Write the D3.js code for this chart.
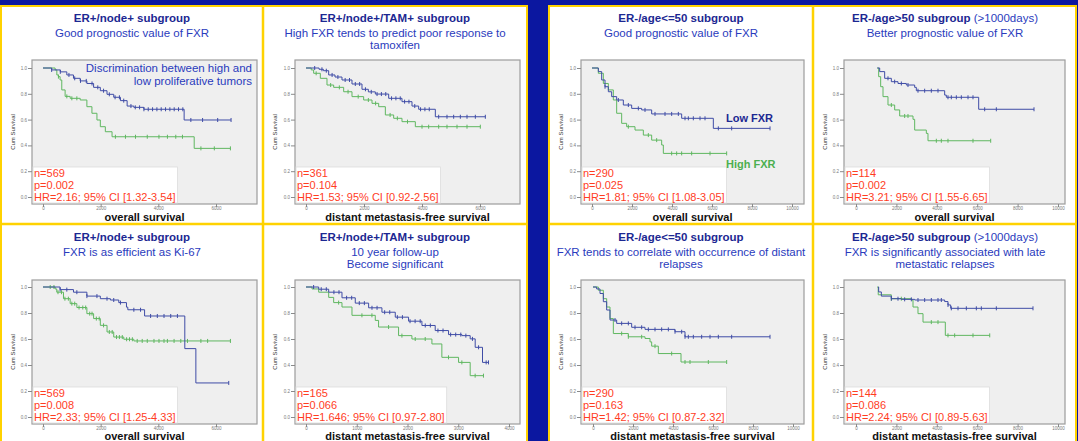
<!DOCTYPE html>
<html>
<head>
<meta charset="utf-8">
<script src="https://cdn.jsdelivr.net/npm/d3@7"></script>
<style>
  html, body { margin: 0; padding: 0; background: #0b17a0; }
  svg { display: block; font-family: "Liberation Sans", Arial, sans-serif; }
</style>
</head>
<body>
<svg id="chart"></svg>
<script>
// ---- text of the eight panels ----
let titles = ['ER+/node+ subgroup', 'ER+/node+/TAM+ subgroup', 'ER-/age<=50 subgroup', 'ER-/age>50 subgroup',
              'ER+/node+ subgroup', 'ER+/node+/TAM+ subgroup', 'ER-/age<=50 subgroup', 'ER-/age>50 subgroup'];
let titleNotes = ['', '', '', ' (>1000days)', '', '', '', ' (>1000days)'];
let subtitles = [
    ['Good prognostic value of FXR'],
    ['High FXR tends to predict poor response to', 'tamoxifen'],
    ['Good prognostic value of FXR'],
    ['Better prognostic value of FXR'],
    ['FXR is as efficient as Ki-67'],
    ['10 year follow-up', 'Become significant'],
    ['FXR tends to correlate with occurrence of distant', 'relapses'],
    ['FXR is significantly associated with late', 'metastatic relapses']
];
let statN = ['569', '361', '290', '114', '569', '165', '290', '144'];
let statP = ['0.002', '0.104', '0.025', '0.002', '0.008', '0.066', '0.163', '0.086'];
let statHR = ['2.16; 95% CI [1.32-3.54]', '1.53; 95% CI [0.92-2.56]', '1.81; 95% CI [1.08-3.05]', '3.21; 95% CI [1.55-6.65]',
              '2.33; 95% CI [1.25-4.33]', '1.646; 95% CI [0.97-2.80]', '1.42; 95% CI [0.87-2.32]', '2.24; 95% CI [0.89-5.63]'];
let xLabels = ['overall survival', 'distant metastasis-free survival', 'overall survival', 'overall survival',
               'overall survival', 'distant metastasis-free survival', 'distant metastasis-free survival', 'distant metastasis-free survival'];

// ---- tick values ----
let ticks6000 = [0, 2000, 4000, 6000];
let ticks4000 = [0, 1000, 2000, 3000, 4000];
let ticks10000 = [0, 2000, 4000, 6000, 8000, 10000];
let yTicks = [0, 0.2, 0.4, 0.6, 0.8, 1.0];

// ---- Kaplan-Meier steps [days, cum survival], low FXR (blue) and high FXR (green) ----
let p1Low = [[0,1],[300,0.985],[600,0.97],[826,0.946],[1057,0.92],[1290,0.9],[1522,0.88],[1755,0.85],[1988,0.824],[2220,0.796],[2453,0.773],[2686,0.747],[2918,0.705],[3150,0.695],[3500,0.68],[4895,0.597],[6522,0.597]];
let p1High = [[0,1],[420,0.985],[480,0.946],[535,0.933],[593,0.907],[651,0.83],[767,0.78],[942,0.765],[1290,0.752],[1522,0.7],[1697,0.649],[1871,0.597],[1988,0.545],[2162,0.506],[2395,0.467],[5244,0.377],[6500,0.377]];
let p1LowCens = [300,600,900,1100,1300,1500,1700,1900,2100,2300,2500,2650,2800,3050,3200,3350,3500,3650,3800,3950,4100,4250,4400,4550,4700,4850,5128,5535,6058,6522];
let p1HighCens = [535,826,1000,1174,2511,2860,3208,3616,4022,4315,4605,4837,5477,5942,6500];

let p2Low = [[0,1],[450,0.99],[600,0.979],[782,0.946],[1000,0.93],[1241,0.907],[1586,0.876],[1931,0.835],[2150,0.815],[2391,0.798],[2851,0.765],[3310,0.739],[3655,0.705],[3885,0.68],[4460,0.622],[6184,0.622]];
let p2High = [[0,1],[180,0.985],[264,0.959],[494,0.92],[724,0.868],[954,0.85],[1299,0.816],[1586,0.778],[1988,0.752],[2276,0.726],[2506,0.7],[2736,0.636],[3023,0.61],[3310,0.584],[3770,0.545],[6011,0.545]];
let p2LowCens = [300,550,700,900,1100,1350,1500,1700,1850,2050,2250,2450,2600,2750,2950,3100,3250,3400,3550,3750,3950,4100,4250,4575,4862,5092,5322,5552,5839,6184];
let p2HighCens = [350,850,1150,1450,1800,2150,2400,2900,3150,3500,4000,4230,4575,4862,5207,5552,6011];

let p3Low = [[0,1],[317,0.972],[483,0.907],[650,0.855],[817,0.816],[983,0.778],[1233,0.752],[1567,0.713],[1983,0.687],[2483,0.675],[2983,0.644],[4483,0.61],[6067,0.532],[8900,0.532]];
let p3High = [[0,1],[317,0.959],[567,0.88],[817,0.83],[1067,0.752],[1233,0.649],[1483,0.571],[1733,0.545],[2150,0.519],[2567,0.48],[2983,0.441],[3483,0.403],[3567,0.338],[6733,0.338]];
let p3LowCens = [650,1317,1817,2317,2650,3150,3650,3983,4317,4650,4817,5067,5400,5650,6317,6983,8900];
let p3HighCens = [1817,2817,3233,3983,4233,4483,4983,5900,6733];

let p4Low = [[1055,1],[1172,0.972],[1419,0.92],[1749,0.894],[2079,0.88],[2492,0.868],[2904,0.85],[2987,0.824],[4389,0.79],[4472,0.773],[6073,0.68],[8812,0.68]];
let p4High = [[1055,1],[1122,0.933],[1221,0.855],[1337,0.778],[1584,0.713],[1914,0.675],[2162,0.628],[2822,0.602],[2904,0.519],[3482,0.493],[3564,0.436],[6668,0.436]];
let p4LowCens = [1584,1914,2244,2574,3069,3399,3729,4059,4554,4719,4967,5214,5545,5792,6370,6947,8812];
let p4HighCens = [1749,2409,2574,3977,4224,4554,5792,6668];

let p5Low = [[0,1],[593,0.98],[1057,0.96],[1522,0.93],[1988,0.91],[2337,0.9],[2628,0.88],[2895,0.845],[2941,0.825],[3523,0.777],[4918,0.526],[5302,0.262],[6442,0.262]];
let p5High = [[0,1],[420,0.985],[477,0.96],[710,0.91],[942,0.872],[1174,0.842],[1522,0.795],[1755,0.757],[1988,0.705],[2221,0.654],[2453,0.615],[2802,0.598],[3151,0.585],[6500,0.585]];
let p5LowCens = [593,826,1174,1522,1871,2220,2453,2686,3151,3383,3732,3965,4197,4430,4662,6442];
let p5HighCens = [250,380,520,640,760,880,1000,1100,1250,1380,1480,1620,1700,1850,1950,2100,2300,2400,2550,2650,2750,2900,3000,3100,3267,3441,3616,3849,4023,4197,4314,4546,4779,5011,5476,5709,6500];

let p6Low = [[0,1],[250,0.983],[447,0.96],[709,0.917],[971,0.876],[1234,0.84],[1496,0.806],[1759,0.768],[2021,0.737],[2284,0.704],[2546,0.665],[2809,0.634],[3071,0.626],[3235,0.601],[3334,0.536],[3478,0.42],[3596,0.42]];
let p6High = [[0,1],[118,0.985],[250,0.96],[447,0.92],[545,0.88],[709,0.846],[906,0.782],[1365,0.743],[1430,0.692],[1824,0.626],[2087,0.6],[2481,0.562],[2677,0.459],[3006,0.42],[3235,0.318],[3497,0.318]];
let p6LowCens = [150,300,400,550,650,800,900,1050,1150,1300,1400,1550,1650,1800,1900,2050,2150,2250,2350,2450,2600,2700,2850,2950,3050,3150,3280,3400,3550,3596];
let p6HighCens = [643,1102,1299,1627,1890,2152,2349,2808,3071,3333,3497];

let p7Low = [[0,1],[183,0.985],[350,0.95],[517,0.887],[683,0.823],[850,0.746],[1183,0.72],[1933,0.69],[2600,0.674],[4100,0.656],[4600,0.617],[8850,0.617]];
let p7High = [[0,1],[267,0.975],[517,0.91],[683,0.846],[850,0.757],[1017,0.642],[1767,0.617],[2600,0.604],[2850,0.578],[2933,0.545],[3267,0.488],[4400,0.423],[6683,0.423]];
let p7LowCens = [1100,1433,1767,2100,2433,2767,3100,3433,3767,4100,4433,4600,4767,5017,5433,5850,6267,6933,8850];
let p7HighCens = [1433,1767,2433,3100,3933,4600,4850,5767,6683];

let p8Low = [[1089,1],[1122,0.962],[1254,0.93],[1749,0.91],[2244,0.905],[2904,0.9],[4389,0.888],[4554,0.862],[4686,0.836],[8762,0.836]];
let p8High = [[1050,1],[1100,0.94],[1749,0.91],[2739,0.9],[2822,0.846],[3069,0.795],[3317,0.73],[4422,0.628],[6620,0.628]];
let p8LowCens = [1749,2079,2409,2739,3069,3399,3729,4059,4224,4554,4719,5050,5462,5957,6205,6947,8762];
let p8HighCens = [1749,2244,3729,4059,4554,4884,5792,6620];

// ---- page layout ----
let width = 1078;
let height = 441;
let cols = [
    {x0: 1, x1: 263, pl: 32, pr: 257},
    {x0: 263, x1: 527, pl: 295, pr: 520},
    {x0: 549, x1: 813, pl: 581, pr: 804},
    {x0: 813, x1: 1077, pl: 844, pr: 1065}
];
let rows = [
    {y0: 6, y1: 221, pt: 60, pb: 204, s0: 197, s1: 68, lab: 221},
    {y0: 225, y1: 441, pt: 280, pb: 424, s0: 417, s1: 287, lab: 439.5}
];
let lowColor = '#3f4ca6';
let highColor = '#5fb760';

let panels = [
    {low: p1Low, high: p1High, lowCens: p1LowCens, highCens: p1HighCens, ticks: ticks6000, xr: [43, 216]},
    {low: p2Low, high: p2High, lowCens: p2LowCens, highCens: p2HighCens, ticks: ticks6000, xr: [306, 480]},
    {low: p3Low, high: p3High, lowCens: p3LowCens, highCens: p3HighCens, ticks: ticks10000, xr: [592, 792]},
    {low: p4Low, high: p4High, lowCens: p4LowCens, highCens: p4HighCens, ticks: ticks10000, xr: [856, 1058]},
    {low: p5Low, high: p5High, lowCens: p5LowCens, highCens: p5HighCens, ticks: ticks6000, xr: [43, 216]},
    {low: p6Low, high: p6High, lowCens: p6LowCens, highCens: p6HighCens, ticks: ticks4000, xr: [306, 509]},
    {low: p7Low, high: p7High, lowCens: p7LowCens, highCens: p7HighCens, ticks: ticks10000, xr: [593, 793]},
    {low: p8Low, high: p8High, lowCens: p8LowCens, highCens: p8HighCens, ticks: ticks10000, xr: [856, 1058]}
];

let svg = d3.select('#chart').attr('width', width).attr('height', height);
svg.append('rect').attr('width', width).attr('height', height).attr('fill', '#0b17a0');

// white card behind each group of four
svg.append('rect').attr('x', 1).attr('y', 6).attr('width', 526).attr('height', 440).attr('fill', '#fff');
svg.append('rect').attr('x', 549).attr('y', 6).attr('width', 528).attr('height', 440).attr('fill', '#fff');

let stepValue = (steps, t) => {
    let i = d3.bisector(d => d[0]).right(steps, t) - 1;
    return steps[Math.max(0, i)][1];
};

let drawPanel = (p, i) => {
    let c = cols[i % 4];
    let r = rows[Math.floor(i / 4)];
    let cx = (c.x0 + c.x1) / 2;

    svg.append('clipPath').attr('id', 'clip' + i)
        .append('rect').attr('x', c.x0).attr('y', r.y0).attr('width', c.x1 - c.x0).attr('height', r.y1 - r.y0);
    let g = svg.append('g').attr('clip-path', 'url(#clip' + i + ')');

    // title and subtitle
    let t = g.append('text').attr('x', cx).attr('y', r.y0 + 15.7).attr('text-anchor', 'middle')
        .style('font-size', '11.5px');
    t.append('tspan').attr('font-weight', 'bold').attr('fill', '#1c2892').text(titles[i]);
    if (titleNotes[i]) t.append('tspan').attr('fill', '#2a3bbd').text(titleNotes[i]);
    subtitles[i].forEach((line, k) => {
        g.append('text').attr('x', cx).attr('y', r.y0 + 30.5 + k * 12.3).attr('text-anchor', 'middle')
            .attr('fill', '#2a3bbd').style('font-size', '11.5px').text(line);
    });

    // scales
    let xScale = d3.scaleLinear().domain([0, d3.max(p.ticks)]).range(p.xr);
    let yScale = d3.scaleLinear().domain([0, 1]).range([r.s0, r.s1]);

    // plot frame
    g.append('rect').attr('x', c.pl).attr('y', r.pt).attr('width', c.pr - c.pl).attr('height', r.pb - r.pt)
        .attr('fill', '#efefef').attr('stroke', '#9c9c9c').attr('stroke-width', 1.2);

    // axes
    let yAxis = d3.axisLeft(yScale).tickValues(yTicks).tickFormat(d3.format('.1f')).tickSize(4).tickPadding(1);
    let ya = g.append('g').attr('transform', 'translate(' + c.pl + ',0)').call(yAxis);
    let xAxis = d3.axisBottom(xScale).tickValues(p.ticks).tickFormat(d3.format('d')).tickSize(3).tickPadding(0);
    let xa = g.append('g').attr('transform', 'translate(0,' + r.pb + ')').call(xAxis);
    [ya, xa].forEach(a => {
        a.select('.domain').remove();
        a.selectAll('line').attr('stroke', '#8a8a8a');
        a.selectAll('text').attr('fill', '#7a7a7a').style('font-size', '4.5px').style('font-family', 'inherit');
    });

    g.append('text').attr('transform', 'translate(' + (c.x0 + 14) + ',' + ((r.pt + r.pb) / 2) + ') rotate(-90)')
        .attr('text-anchor', 'middle').attr('fill', '#333').style('font-size', '6px').text('Cum Survival');

    // curves
    let line = d3.line().x(d => xScale(d[0])).y(d => yScale(d[1])).curve(d3.curveStepAfter);
    [[p.high, p.highCens, highColor], [p.low, p.lowCens, lowColor]].forEach(([steps, cens, col]) => {
        g.append('path').datum(steps).attr('d', line).attr('fill', 'none').attr('stroke', col).attr('stroke-width', 1);
        g.selectAll(null).data(cens).enter().append('line')
            .attr('x1', d => xScale(d)).attr('x2', d => xScale(d))
            .attr('y1', d => yScale(stepValue(steps, d)) - 2)
            .attr('y2', d => yScale(stepValue(steps, d)) + 2)
            .attr('stroke', col).attr('stroke-width', 1);
    });

    // statistics box
    let sb = g.append('g');
    let box = sb.append('rect');
    let lines = ['n=' + statN[i], 'p=' + statP[i], 'HR=' + statHR[i]];
    let maxLen = 0;
    lines.forEach((s, k) => {
        let tx = sb.append('text').attr('x', c.pl + 2).attr('y', r.s0 - 20 + k * 12)
            .attr('fill', '#ff3d1f').style('font-size', '11px').text(s);
        maxLen = Math.max(maxLen, tx.node().getComputedTextLength());
    });
    box.attr('x', c.pl + 1).attr('y', r.s0 - 30).attr('width', maxLen + 3).attr('height', r.pb - r.s0 + 29)
        .attr('fill', '#ffffff').attr('stroke', '#dddddd').attr('stroke-width', 0.8);

    // x label
    g.append('text').attr('x', (c.pl + c.pr) / 2).attr('y', r.lab).attr('text-anchor', 'middle')
        .attr('font-weight', 'bold').attr('fill', '#111').style('font-size', '11px').text(xLabels[i]);

    return g;
};

let groups = panels.map(drawPanel);

// notes written inside the first and third panels
let note1 = ['Discrimination between high and', 'low proliferative tumors'];
note1.forEach((s, k) => {
    groups[0].append('text').attr('x', 252).attr('y', 72 + k * 13).attr('text-anchor', 'end')
        .attr('fill', '#2a3bbd').style('font-size', '11.5px').text(s);
});
groups[2].append('text').attr('x', 726).attr('y', 122).attr('font-weight', 'bold')
    .attr('fill', '#1c2892').style('font-size', '11px').text('Low FXR');
groups[2].append('text').attr('x', 726).attr('y', 168).attr('font-weight', 'bold')
    .attr('fill', '#4caf50').style('font-size', '11px').text('High FXR');

// yellow frames
let yellow = '#ffd200';
[[1, 6, 526, 436], [549, 6, 527, 436]].forEach(([x, y, w, h]) => {
    svg.append('rect').attr('x', x).attr('y', y).attr('width', w).attr('height', h)
        .attr('fill', 'none').attr('stroke', yellow).attr('stroke-width', 2);
});
[[263, 6, 263, 441], [813, 6, 813, 441], [1, 224, 527, 224], [549, 224, 1077, 224]].forEach(([x1, y1, x2, y2]) => {
    svg.append('line').attr('x1', x1).attr('y1', y1).attr('x2', x2).attr('y2', y2)
        .attr('stroke', yellow).attr('stroke-width', 2.5);
});
</script>
</body>
</html>
